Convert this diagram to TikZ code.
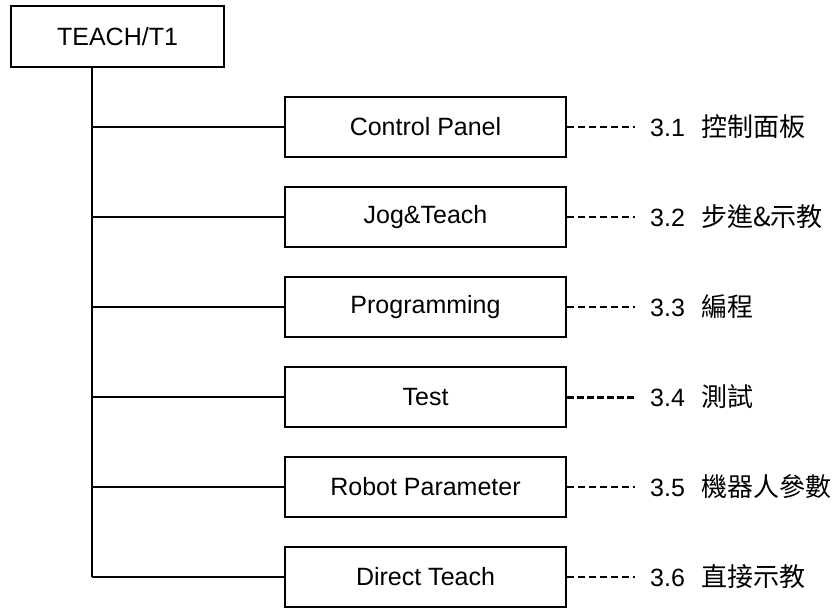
\documentclass[tikz,border=0pt]{standalone}
\usepackage{fontspec}
\setmainfont{Liberation Sans}
\newfontfamily\cjk{Noto Sans CJK TC}
\begin{document}
\begin{tikzpicture}[x=1pt,y=-1pt,
  box/.style={draw,line width=2pt,minimum width=281pt,minimum height=60pt,inner sep=0pt,font=\fontsize{25}{30}\selectfont},
  lab/.style={anchor=west,inner sep=0pt,inner xsep=15pt,font=\fontsize{25}{30}\selectfont},
  link/.style={line width=2pt},
  dotlink/.style={line width=1.7pt,dash pattern=on 7pt off 4pt},
  dotbold/.style={line width=3pt,dash pattern=on 6.5pt off 3.5pt}]
\useasboundingbox (0,0) rectangle (836,608);
\node[box,minimum width=213pt,minimum height=61pt] (root) at (117.5,36.5) {TEACH/T1};
\coordinate (t0) at (92,67);
\coordinate (t6) at (92,577);
\foreach \i/\t/\c/\ls in {1/Control Panel/控制面板/dotlink,
                     2/Jog\&Teach/步進\&示教/dotlink,
                     3/Programming/編程/dotlink,
                     4/Test/測試/dotbold,
                     5/Robot Parameter/機器人參數/dotlink,
                     6/Direct Teach/直接示教/dotlink}{
  \node[box] (b\i) at (425.5,{127+90*(\i-1)}) {\t};
  \node[lab] (l\i) at (635,{127+90*(\i-1)}) {3.\i\hspace{0.65em}{\cjk\fontsize{26}{30}\selectfont \c}};
  \coordinate (j\i) at (92,{127+90*(\i-1)});
  \draw[link] (j\i) -- (b\i.west);
  \draw[\ls] (b\i.east) -- (l\i.west);
}
\draw[link] (t0) -- (t6);
\end{tikzpicture}
\end{document}
